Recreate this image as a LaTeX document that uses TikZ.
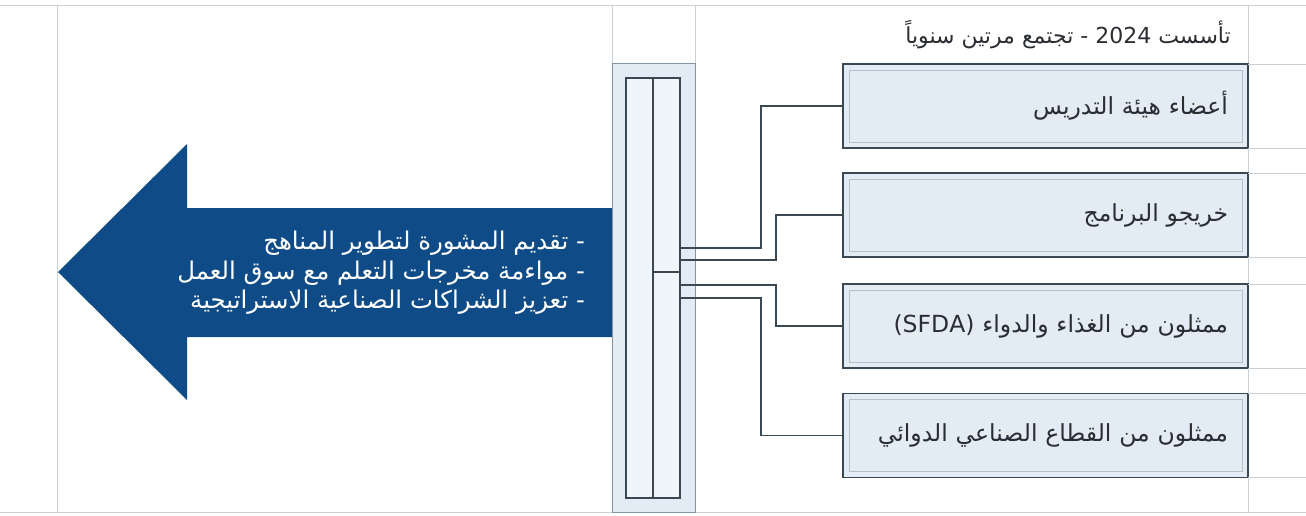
\documentclass[tikz,border=0pt]{standalone}
\usepackage{fontspec}
\newfontfamily\arabicfont[Script=Arabic]{DejaVu Sans}
\TeXXeTstate=1
\usetikzlibrary{
  calc
}

\definecolor{gridgray}{HTML}{C9D1D7}
\definecolor{panelblue}{HTML}{E3ECF4}
\definecolor{framegray}{HTML}{8694A0}
\definecolor{edgedark}{HTML}{3A4853}
\definecolor{innergray}{HTML}{B7C0C7}
\definecolor{arrowblue}{HTML}{0F4B86}
\definecolor{textdark}{HTML}{2A2D32}

\tikzset{
  % Shared values that are assigned to different keys in the styles below.
  globals/box width/.initial=405pt,
  globals/box height/.initial=84pt,
  globals/frame inset/.initial=6pt,
%
  % For the thin lines of the page grid.
  grid rule/.style={
    draw=gridgray,
    line width=1pt},
%
  % For the elbow connectors.
  link/.style={
    draw=edgedark,
    line width=1.3pt},
%
  % For the outer strip of the council column.
  column/.style={
    draw=framegray,
    line width=1pt,
    fill=panelblue,
    minimum width=83pt,
    minimum height=449pt,
    inner sep=0pt,
    outer sep=0pt},
%
  % For the cells inside the column.
  cell/.style={
    draw=edgedark,
    line width=1.2pt,
    fill=panelblue!55!white,
    minimum width=27pt,
    inner sep=0pt,
    outer sep=0pt},
%
  % For member boxes.  The lighter inner frame sits on top of the fill.
  member/.style={
    draw=edgedark,
    line width=1.2pt,
    fill=panelblue,
    minimum width=\pgfkeysvalueof{/tikz/globals/box width},
    minimum height=\pgfkeysvalueof{/tikz/globals/box height},
    text width=365pt,
    inner xsep=20pt,
    inner ysep=0pt,
    outer sep=0pt,
    align=right,
    text=textdark,
    font=\arabicfont\fontsize{23.5pt}{28pt}\selectfont,
    path picture={%
      \draw[innergray, line width=1pt]
        ([shift={(\pgfkeysvalueof{/tikz/globals/frame inset},-\pgfkeysvalueof{/tikz/globals/frame inset})}]path picture bounding box.north west)
        rectangle
        ([shift={(-\pgfkeysvalueof{/tikz/globals/frame inset},\pgfkeysvalueof{/tikz/globals/frame inset})}]path picture bounding box.south east);}},
%
  % For the line above the boxes.
  heading/.style={
    anchor=east,
    inner sep=0pt,
    text=textdark,
    font=\arabicfont\fontsize{22pt}{26pt}\selectfont},
%
  % For the white list on the big arrow.
  aim text/.style={
    anchor=east,
    align=right,
    inner sep=0pt,
    text=white,
    font=\arabicfont\fontsize{24.4pt}{29.5pt}\selectfont}
}

\begin{document}
\begin{tikzpicture}[x=1pt, y=-1pt]
  \useasboundingbox (0,0) rectangle (1306,515);

  % Page grid.
  \draw[grid rule] (0,5) -- (1306,5) (0,512) -- (1306,512);
  \foreach \x in {57,612,695,1248}
    \draw[grid rule] (\x,5) -- (\x,512);

  % Big arrow pointing left.
  \fill[arrowblue]
    (612,208) -- (187,208) -- (187,144) -- (58,272)
    -- (187,400) -- (187,337) -- (612,337) -- cycle;
  \node[aim text] (aims) at (585,273)
    {\beginR- تقديم المشورة لتطوير المناهج\endR\\
     \beginR- مواءمة مخرجات التعلم مع سوق العمل\endR\\
     \beginR- تعزيز الشراكات الصناعية الاستراتيجية\endR};

  % Council column.
  \node[column] (council) at (653.5,287.5) {};
  \node[cell, minimum height=420pt] (cellL) at (639.5,288) {};
  \node[cell, minimum height=194pt] (cellUp) at (666.5,175) {};
  \node[cell, minimum height=226pt] (cellDown) at (666.5,385) {};

  % Members.
  \node[heading] (founded) at (1231,35)
    {\beginR تأسست \beginL2024\endL{} - تجتمع مرتين سنوياً\endR};
  \node[member] (faculty) at (1045.5,106) {\beginR أعضاء هيئة التدريس\endR};
  \node[member] (alumni) at (1045.5,215) {\beginR خريجو البرنامج\endR};
  \node[member] (sfda) at (1045.5,326) {\beginR ممثلون من الغذاء والدواء \beginL(SFDA)\endL\endR};
  \node[member] (industry) at (1045.5,435.5) {\beginR ممثلون من القطاع الصناعي الدوائي\endR};

  \foreach \n in {faculty,alumni,sfda,industry}
    \draw[grid rule] (\n.north east) -- ++(58,0) (\n.south east) -- ++(58,0);

  % Connectors.
  \draw[link] ([yshift=24pt]cellUp.south east) -- ++(81,0) |- (faculty.west);
  \draw[link] ([yshift=12pt]cellUp.south east) -- ++(96,0) |- (alumni.west);
  \draw[link] ([yshift=-13pt]cellDown.north east) -- ++(96,0) |- (sfda.west);
  \draw[link] ([yshift=-26pt]cellDown.north east) -- ++(81,0) |- (industry.west);
\end{tikzpicture}
\end{document}
